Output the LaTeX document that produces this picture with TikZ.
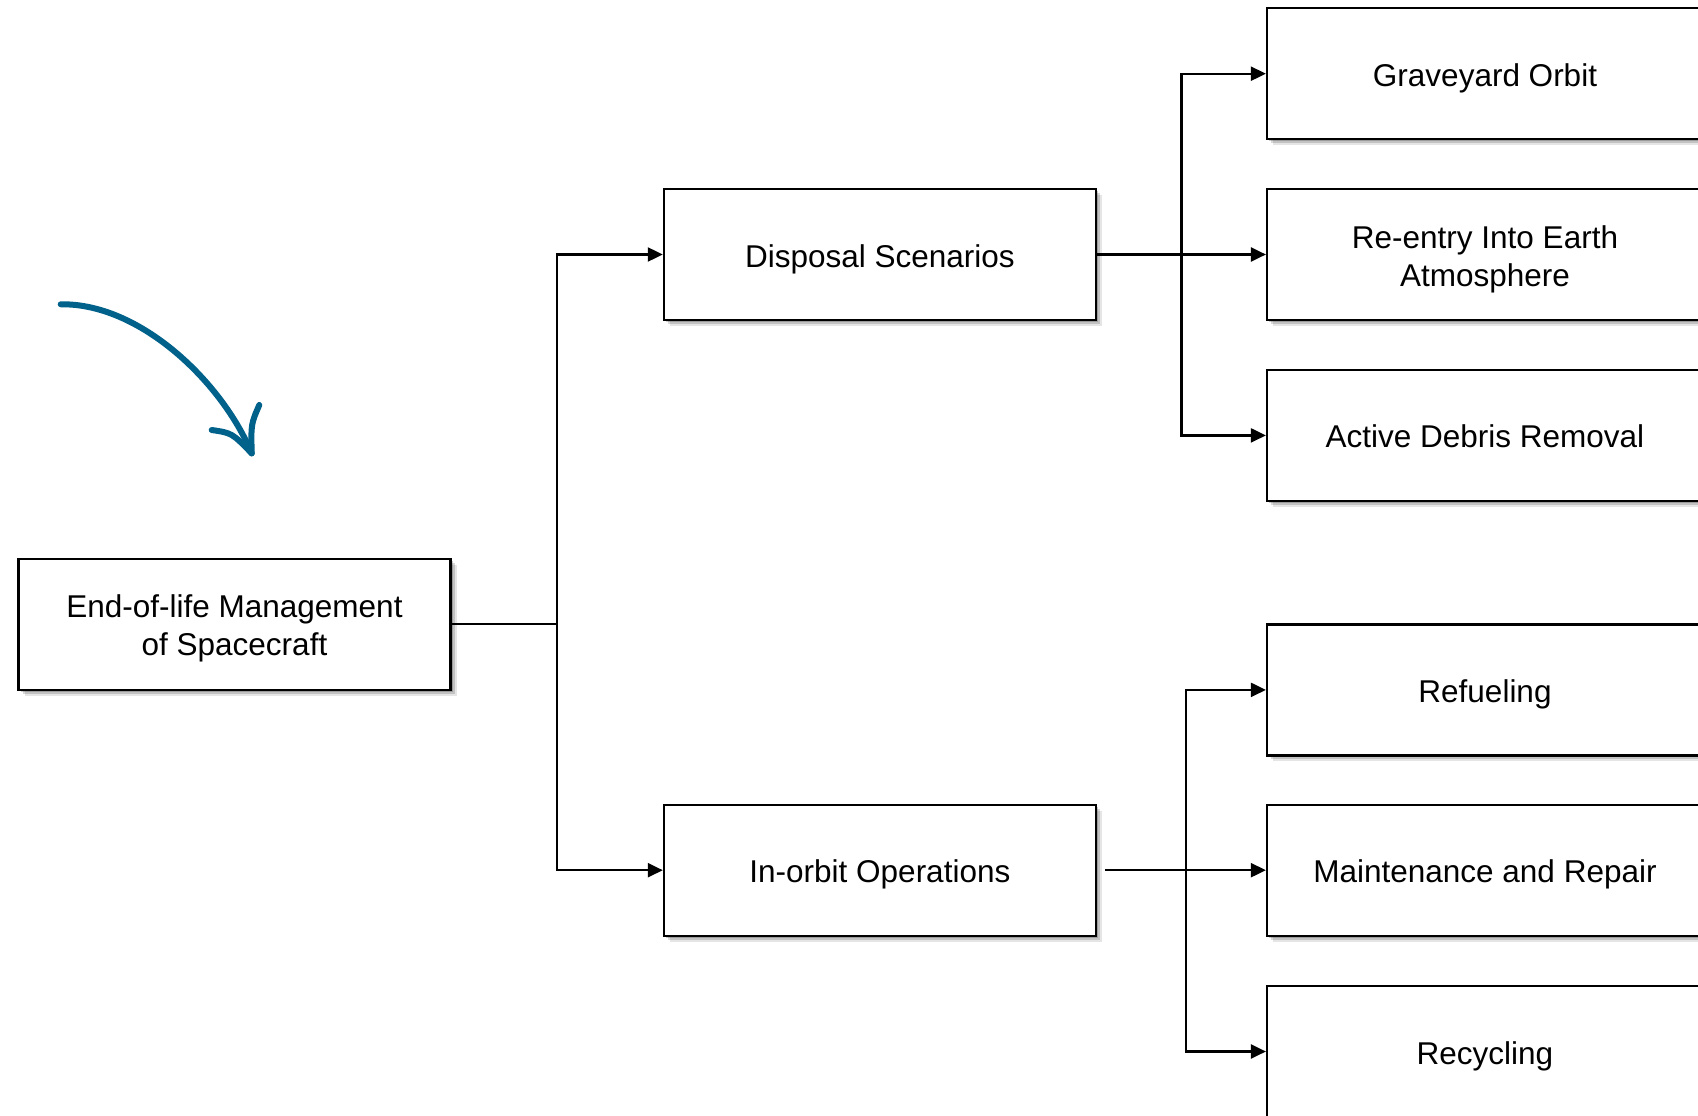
\documentclass[tikz,border=0pt]{standalone}
\usepackage{fontspec}
\setmainfont{Liberation Sans}
\usetikzlibrary{arrows.meta,shadows}
\definecolor{arrowblue}{RGB}{0,97,138}
\newcommand\hstrut{\rule{0pt}{32pt}}
\newcommand\dstrut{\rule[-7pt]{0pt}{7pt}}
\tikzset{
  box/.style={rectangle, draw=black, line width=2.2pt, fill=white,
    minimum width=432pt, minimum height=131pt, inner sep=0pt, align=center,
    font=\fontsize{31.5}{38}\selectfont,
    drop shadow={shadow xshift=6pt,shadow yshift=-6pt,opacity=.10,fill=black},
    drop shadow={shadow xshift=4pt,shadow yshift=-4pt,opacity=.15,fill=black},
    drop shadow={shadow xshift=2pt,shadow yshift=-2pt,opacity=.20,fill=black}},
  rbox/.style={box, minimum width=436pt},
  conn/.style={line width=2.2pt, draw=black},
  arr/.style={conn, -{Triangle[length=15pt,width=14pt]}},
}
\begin{document}
\begin{tikzpicture}[x=1pt,y=-1pt]
\useasboundingbox (0,0) rectangle (1698,1116);
\clip (0,0) rectangle (1698,1116);
\fill[white] (0,0) rectangle (1698,1116);

\node[box] (root) at (234.5,624.3) {\hstrut End-of-life Management\\of Spacecraft\dstrut};
\node[box] (disp) at (879.9,254.5) {\hstrut Disposal Scenarios\dstrut};
\node[box] (inorb) at (879.9,870.2) {\hstrut In-orbit Operations\dstrut};

\node[rbox] (grave) at (1485,73.7) {\hstrut Graveyard Orbit\dstrut};
\node[rbox] (reentry) at (1485,254.5) {\hstrut Re-entry Into Earth\\Atmosphere\dstrut};
\node[rbox] (adr) at (1485,435.4) {\hstrut Active Debris Removal\dstrut};
\node[rbox] (refuel) at (1485,689.9) {\hstrut Refueling\dstrut};
\node[rbox] (maint) at (1485,870.2) {\hstrut Maintenance and Repair\dstrut};
\node[rbox] (recyc) at (1485,1051.5) {\hstrut Recycling\dstrut};

\coordinate (j0) at (556.6,624.3);
\coordinate (j1) at (1181.4,254.5);
\coordinate (j2) at (1185.8,870.2);

\draw[conn] (root.east) -- (j0);
\draw[arr] (j0) |- (disp.west);
\draw[arr] (j0) |- (inorb.west);

\draw[conn] (disp.east) -- (j1);
\draw[arr] (j1) -- (reentry.west);
\draw[arr] (j1) |- (grave.west);
\draw[arr] (j1) |- (adr.west);

\draw[conn] ([xshift=8pt]inorb.east) -- (j2);
\draw[arr] (j2) -- (maint.west);
\draw[arr] (j2) |- (refuel.west);
\draw[arr] (j2) |- (recyc.west);

\coordinate (cs) at (60.7,304.3);
\coordinate (ce) at (251.7,453.3);
\coordinate (bl) at (211.7,430);
\coordinate (br) at (259.3,405);
\draw[arrowblue, line width=6pt, line cap=round, line join=round]
  (cs) .. controls (140,303) and (222,382) .. (ce);
\draw[arrowblue, line width=6pt, line cap=round]
  (bl) .. controls (232,433) .. (ce);
\draw[arrowblue, line width=6pt, line cap=round]
  (br) .. controls (251,424) .. (ce);
\end{tikzpicture}
\end{document}
